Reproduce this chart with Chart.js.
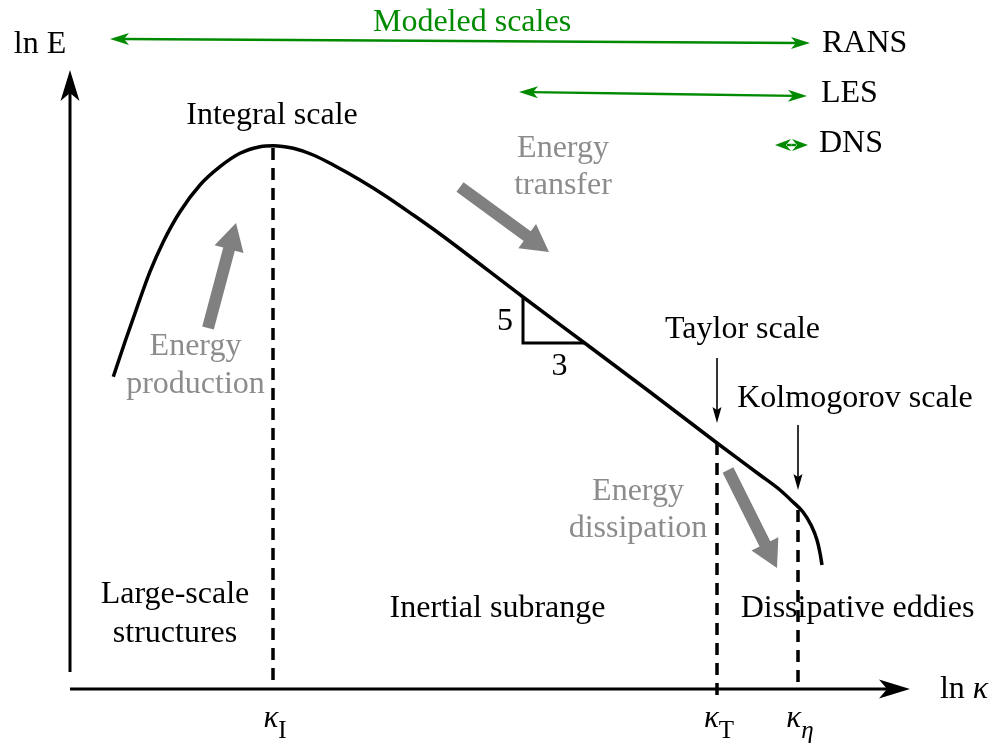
<!DOCTYPE html>
<html>
<head>
<meta charset="utf-8">
<script src="https://cdn.jsdelivr.net/npm/chart.js@4.4.1/dist/chart.umd.min.js"></script>
<style>
  body { margin: 0; background: #fff; }
  canvas { display: block; }
</style>
</head>
<body>
<canvas id="spectrum" width="993" height="753"></canvas>
<script>
// energy spectrum (arbitrary ln units, x = ln k, y = ln E)
const lnK = [11.33, 12.5, 13.67, 15.0, 16.33, 18.0, 20.0, 22.0, 24.0, 26.0, 27.33,
             29.33, 31.33, 33.33, 36.0, 38.67, 41.33, 44.0, 52.3, 59.0, 65.0, 71.7, 76.0,
             78.0, 79.3, 80.3, 81.1, 81.7, 82.0, 82.2];
const lnE = [37.63, 41.13, 44.47, 48.13, 51.13, 54.13, 56.8, 58.63, 59.97, 60.63, 60.73,
             60.47, 59.8, 58.8, 57.3, 55.63, 53.8, 51.9, 45.6, 40.6, 36.1, 31.0, 27.8,
             26.3, 25.1, 24.1, 22.8, 21.3, 20.0, 18.8];

// characteristic wavenumbers (integral, Taylor, Kolmogorov)
const markSub = ["I", "T", "η"];
const markK = [27.3, 71.7, 79.8];
const markTop = [60.5, 31.0, 24.3];
const markBottom = [6.3, 5.3, 6.6];

// -5/3 slope triangle
const triK = [52.3, 52.3, 58.4];
const triE = [45.6, 41.0, 41.0];

// modeled-scale ranges (green double arrows)
const modelNames = ["RANS", "LES", "DNS"];
const modelX0 = [11.0, 51.9, 77.5];
const modelY0 = [71.4, 66.1, 60.8];
const modelX1 = [81.0, 80.7, 80.8];
const modelY1 = [71.0, 65.7, 60.8];

// energy flow (gray arrows)
const flowText = [["Energy", "production"], ["Energy", "transfer"], ["Energy", "dissipation"]];
const flowX0 = [20.8, 46.0, 72.8];
const flowY0 = [42.5, 56.6, 28.3];
const flowX1 = [23.6, 54.9, 77.7];
const flowY1 = [53.0, 50.1, 18.5];

const BLACK = "#000";
const GRAY = "#808080";
const GRAYTXT = "#8c8c8c";
const GREEN = "#008a00";
const SERIF = "'Liberation Serif', 'DejaVu Serif', serif";

function dashed(i) {
  return {
    data: [{ x: markK[i], y: markTop[i] }, { x: markK[i], y: markBottom[i] }],
    showLine: true, borderColor: BLACK, borderWidth: 3.5, borderDash: [12, 8],
    pointRadius: 0
  };
}

function stealth(ctx, x0, y0, x1, y1, len, half, inset, color) {
  const a = Math.atan2(y1 - y0, x1 - x0);
  const c = Math.cos(a), s = Math.sin(a);
  ctx.fillStyle = color;
  ctx.beginPath();
  ctx.moveTo(x1, y1);
  ctx.lineTo(x1 - len * c - half * s, y1 - len * s + half * c);
  ctx.lineTo(x1 - (len - inset) * c, y1 - (len - inset) * s);
  ctx.lineTo(x1 - len * c + half * s, y1 - len * s - half * c);
  ctx.closePath();
  ctx.fill();
}

function shaft(ctx, x0, y0, x1, y1, back, width, color) {
  const a = Math.atan2(y1 - y0, x1 - x0);
  ctx.strokeStyle = color;
  ctx.lineWidth = width;
  ctx.beginPath();
  ctx.moveTo(x0, y0);
  ctx.lineTo(x1 - back * Math.cos(a), y1 - back * Math.sin(a));
  ctx.stroke();
}

function fatArrow(ctx, x0, y0, x1, y1, color) {
  const a = Math.atan2(y1 - y0, x1 - x0);
  const c = Math.cos(a), s = Math.sin(a);
  const w = 6, h = 15, L = 27;
  const nx = x1 - L * c, ny = y1 - L * s;
  ctx.fillStyle = color;
  ctx.beginPath();
  ctx.moveTo(x0 - w * s, y0 + w * c);
  ctx.lineTo(nx - w * s, ny + w * c);
  ctx.lineTo(nx - h * s, ny + h * c);
  ctx.lineTo(x1, y1);
  ctx.lineTo(nx + h * s, ny - h * c);
  ctx.lineTo(nx + w * s, ny - w * c);
  ctx.lineTo(x0 + w * s, y0 - w * c);
  ctx.closePath();
  ctx.fill();
}

function text(ctx, s, x, y, color, font, align) {
  ctx.font = font;
  ctx.fillStyle = color;
  ctx.textAlign = align || "center";
  ctx.textBaseline = "alphabetic";
  ctx.fillText(s, x, y);
}

const overlay = {
  id: "overlay",
  afterDatasetsDraw(chart) {
    const ctx = chart.ctx;
    const X = v => chart.scales.x.getPixelForValue(v);
    const Y = v => chart.scales.y.getPixelForValue(v);
    const F = 32;
    const font = F + "px " + SERIF;
    ctx.save();
    ctx.lineCap = "butt";

    // axes
    shaft(ctx, X(7.0), Y(8.1), X(7.0), Y(68.3), 20, 3, BLACK);
    stealth(ctx, X(7.0), Y(8.1), X(7.0), Y(68.3), 31, 9.5, 8, BLACK);
    shaft(ctx, X(7.0), Y(6.4), X(91.0), Y(6.4), 20, 3, BLACK);
    stealth(ctx, X(7.0), Y(6.4), X(91.0), Y(6.4), 31, 9.5, 8, BLACK);
    text(ctx, "ln E", X(4.0), Y(70.0), BLACK, font);
    ctx.font = font;
    const lnW = ctx.measureText("ln ").width;
    ctx.font = "italic " + font;
    const kW = ctx.measureText("κ").width;
    const lx = X(96.4) - (lnW + kW) / 2;
    text(ctx, "ln ", lx, Y(5.5), BLACK, font, "left");
    text(ctx, "κ", lx + lnW, Y(5.5), BLACK, "italic " + font, "left");

    // wavenumber marks below the axis
    markK.forEach((k, i) => {
      const kf = "italic 31px " + SERIF;
      const sf = (i === 2 ? "italic 25px " : "25px ") + SERIF;
      ctx.font = kf;
      const w1 = ctx.measureText("κ").width;
      ctx.font = sf;
      const w2 = ctx.measureText(markSub[i]).width;
      const x0 = X(k + 0.2) - (w1 + w2) / 2;
      text(ctx, "κ", x0, Y(2.6), BLACK, kf, "left");
      text(ctx, markSub[i], x0 + w1, Y(1.5), BLACK, sf, "left");
    });

    // modeled scales
    text(ctx, "Modeled scales", X(47.2), Y(72.2), GREEN, font);
    const labY = [70.1, 65.1, 60.1];
    const labX = [82.2, 82.1, 81.9];
    modelNames.forEach((n, i) => {
      const ax = X(modelX0[i]), ay = Y(modelY0[i]);
      const bx = X(modelX1[i]), by = Y(modelY1[i]);
      const mx = (ax + bx) / 2, my = (ay + by) / 2;
      shaft(ctx, mx, my, bx, by, 12, 2.4, GREEN);
      shaft(ctx, mx, my, ax, ay, 12, 2.4, GREEN);
      const len = i === 2 ? 16 : 19;
      stealth(ctx, ax, ay, bx, by, len, 6, 5, GREEN);
      stealth(ctx, bx, by, ax, ay, len, 6, 5, GREEN);
      text(ctx, n, X(labX[i]), Y(labY[i]), BLACK, font, "left");
    });

    // energy flow arrows
    const flowLabX = [19.55, 56.3, 63.8];
    const flowLabY = [[39.8, 36.0], [59.6, 55.9], [25.3, 21.6]];
    flowText.forEach((t, i) => {
      fatArrow(ctx, X(flowX0[i]), Y(flowY0[i]), X(flowX1[i]), Y(flowY1[i]), GRAY);
      text(ctx, t[0], X(flowLabX[i]), Y(flowLabY[i][0]), GRAYTXT, font);
      text(ctx, t[1], X(flowLabX[i]), Y(flowLabY[i][1]), GRAYTXT, font);
    });

    // scale names with thin pointers
    text(ctx, "Integral scale", X(27.2), Y(62.9), BLACK, font);
    text(ctx, "Taylor scale", X(74.25), Y(41.5), BLACK, font);
    shaft(ctx, X(71.7), Y(39.5), X(71.7), Y(33.0), 10, 1.6, BLACK);
    stealth(ctx, X(71.7), Y(39.5), X(71.7), Y(33.0), 16, 4.5, 3, BLACK);
    text(ctx, "Kolmogorov scale", X(85.5), Y(34.6), BLACK, font);
    shaft(ctx, X(79.8), Y(32.8), X(79.8), Y(26.3), 10, 1.6, BLACK);
    stealth(ctx, X(79.8), Y(32.8), X(79.8), Y(26.3), 16, 4.5, 3, BLACK);

    // slope triangle numbers
    text(ctx, "5", X(50.5), Y(42.3), BLACK, font);
    text(ctx, "3", X(55.95), Y(37.8), BLACK, font);

    // ranges
    text(ctx, "Large-scale", X(17.5), Y(15.0), BLACK, font);
    text(ctx, "structures", X(17.5), Y(11.1), BLACK, font);
    text(ctx, "Inertial subrange", X(49.75), Y(13.6), BLACK, font);
    text(ctx, "Dissipative eddies", X(85.75), Y(13.6), BLACK, font);

    ctx.restore();
  }
};

const curve = lnK.map((k, i) => ({ x: k, y: lnE[i] }));
const triangle = triK.map((k, i) => ({ x: k, y: triE[i] }));

new Chart(document.getElementById("spectrum"), {
  type: "scatter",
  data: {
    datasets: [
      { data: curve, showLine: true, borderColor: BLACK, borderWidth: 3.5,
        pointRadius: 0, cubicInterpolationMode: "monotone" },
      { data: triangle, showLine: true, borderColor: BLACK, borderWidth: 3,
        pointRadius: 0, borderJoinStyle: "miter" },
      dashed(0), dashed(1), dashed(2)
    ]
  },
  options: {
    responsive: false,
    animation: false,
    layout: { padding: 0 },
    scales: {
      x: { type: "linear", min: 0, max: 99.3, display: false },
      y: { type: "linear", min: 0, max: 75.3, display: false }
    },
    plugins: {
      legend: { display: false },
      tooltip: { enabled: false }
    }
  },
  plugins: [overlay]
});
</script>
</body>
</html>
